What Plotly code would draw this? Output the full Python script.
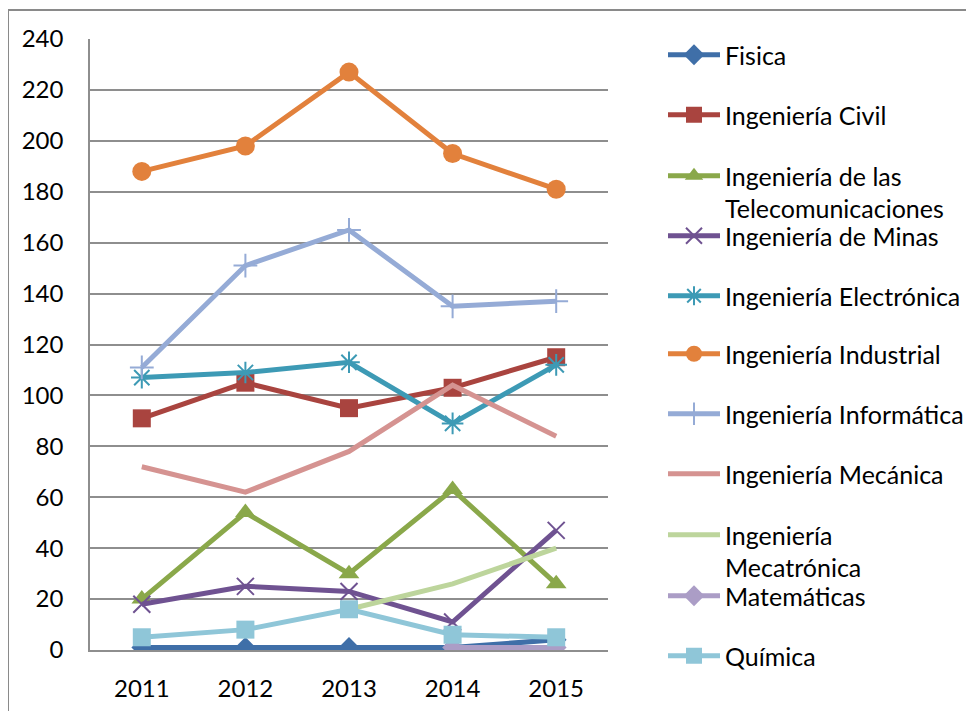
import plotly.graph_objects as go

years = ["2011", "2012", "2013", "2014", "2015"]

series_names = [
    "Fisica",
    "Ingeniería Civil",
    "Ingeniería de las<br>Telecomunicaciones",
    "Ingeniería de Minas",
    "Ingeniería Electrónica",
    "Ingeniería Industrial",
    "Ingeniería Informática",
    "Ingeniería Mecánica",
    "Ingeniería<br>Mecatrónica",
    "Matemáticas",
    "Química",
]

fisica = [1, 1, 1, 1, 4]
civil = [91, 105, 95, 103, 115]
telecom = [20, 54, 30, 63, 26]
minas = [18, 25, 23, 11, 47]
electronica = [107, 109, 113, 89, 112]
industrial = [188, 198, 227, 195, 181]
informatica = [111, 151, 165, 135, 137]
mecanica = [72, 62, 78, 104, 84]
mecatronica = [None, None, 16, 26, 40]
matematicas = [None, None, None, 1, 1]
quimica = [5, 8, 16, 6, 5]

series_values = [fisica, civil, telecom, minas, electronica, industrial,
                 informatica, mecanica, mecatronica, matematicas, quimica]

colors = ["#3F6FA8", "#A9443F", "#8AA84A", "#6F5291", "#3D9AB5", "#E2813C",
          "#95ABD6", "#D59391", "#BDD59C", "#AB9DC6", "#8FC6D8"]
symbols = ["diamond", "square", "triangle-up", "x-thin-open", "asterisk-open",
           "circle", "cross-thin-open", None, None, "diamond", "square"]
msizes = [16, 18, 18, 17, 18, 19, 17, 0, 0, 16, 18]

FONT = "Lato"
FS = 24
LFS = 25
OFF = 8  # browser default body margin
PAGE_W, PAGE_H = 974, 711
W, H = PAGE_W - OFF, PAGE_H - OFF
# plot area in page pixels
PX0, PX1, PY0, PY1 = 90, 608, 39, 650
L = PX0 - OFF
R = W - (PX1 - OFF)
T = PY0 - OFF
B = H - (PY1 - OFF)
pw = PX1 - PX0
ph = PY1 - PY0

def px_x(x):
    return (x - PX0) / pw

def px_y(y):
    return (PY1 - y) / ph

fig = go.Figure()
legend_layout = {}
text_y = [56, 116, 177, 237, 297, 355, 415, 475, 536, 597, 657]
for i, (name, vals) in enumerate(zip(series_names, series_values)):
    lg = "legend" if i == 0 else f"legend{i+1}"
    sym = symbols[i]
    mode = "lines+markers" if sym else "lines"
    marker = dict(color=colors[i], size=msizes[i])
    if sym:
        marker["symbol"] = sym
        if "thin" in sym or "asterisk" in sym:
            marker["line"] = dict(color=colors[i], width=2)
    fig.add_trace(go.Scatter(
        x=years, y=vals, name=name, mode=mode,
        line=dict(color=colors[i], width=5),
        marker=marker, legend=lg, connectgaps=False,
    ))
    legend_layout[lg] = dict(
        x=px_x(663), y=px_y(text_y[i] - 24), xanchor="left", yanchor="top",
        bgcolor="rgba(0,0,0,0)", borderwidth=0, itemwidth=52,
        font=dict(family=FONT, size=LFS, color="black"), valign="top",
        itemclick=False, itemdoubleclick=False,
    )

fig.update_layout(
    width=W, height=H,
    margin=dict(l=L, r=R, t=T, b=B, autoexpand=False),
    paper_bgcolor="white", plot_bgcolor="white",
    font=dict(family=FONT, size=FS, color="black"),
    showlegend=True,
    **legend_layout,
)

fig.update_xaxes(
    type="category", range=[-0.5, 4.5], showgrid=False,
    showline=True, linecolor="#8E8E8E", linewidth=1.5,
    ticks="", ticklabelstandoff=16,
    tickfont=dict(family=FONT, size=FS, color="black"),
)
fig.update_yaxes(
    range=[0, 240], dtick=20, showgrid=True, gridcolor="#8E8E8E", gridwidth=1.5,
    showline=True, linecolor="#8E8E8E", linewidth=1.5, zeroline=False,
    ticks="", ticklabelstandoff=20,
    tickfont=dict(family=FONT, size=FS, color="black"),
)

# outer chart frame (partially visible in the reference crop)
frame_x = px_x(8)
frame_top = px_y(10)
fig.add_shape(type="line", xref="paper", yref="paper",
              x0=frame_x, x1=frame_x, y0=px_y(PAGE_H + 5), y1=frame_top,
              line=dict(color="#8A8A8A", width=2))
fig.add_shape(type="line", xref="paper", yref="paper",
              x0=frame_x, x1=px_x(973), y0=frame_top, y1=frame_top,
              line=dict(color="#8A8A8A", width=2))

fig.write_html("out.html")
